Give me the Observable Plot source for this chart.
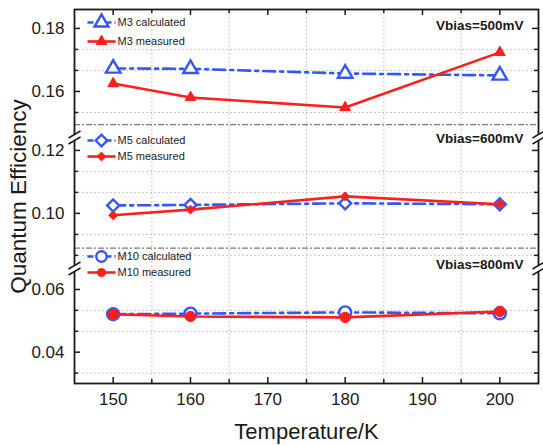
<!DOCTYPE html>
<html><head><meta charset="utf-8">
<script src="https://cdn.jsdelivr.net/npm/d3@7"></script>
<script src="https://cdn.jsdelivr.net/npm/@observablehq/plot@0.6"></script>
<style>body{margin:0;background:#fff} svg{display:block}</style>
</head><body><div id="chart"></div>
<script>
// ---- data ----
const temperatures = [150, 160, 180, 200];
const m3Calculated = [0.1673, 0.1672, 0.1657, 0.1651];
const m3Measured   = [0.1625, 0.1581, 0.1549, 0.1724];
const m5Calculated = [0.1025, 0.1027, 0.1032, 0.1029];
const m5Measured   = [0.0994, 0.1012, 0.1054, 0.1029];
const m10Calculated = [0.0521, 0.0523, 0.0527, 0.0524];
const m10Measured   = [0.0521, 0.0514, 0.0511, 0.0530];
const seriesNames = ["M3 calculated", "M3 measured", "M5 calculated", "M5 measured", "M10 calculated", "M10 measured"];
const xTicks = [150, 160, 170, 180, 190, 200];
const xMinorTicks = [155, 165, 175, 185, 195];
const yTicks = [0.04, 0.06, 0.10, 0.12, 0.16, 0.18];
const yMinorTicks = [0.03333, 0.04667, 0.05333, 0.08667, 0.09333, 0.10667, 0.11333, 0.15333, 0.16667, 0.17333];
const separators = [0.089, 0.1495];
const biasLabels = ["Vbias=500mV", "Vbias=600mV", "Vbias=800mV"];
// broken y axis: three segments
const yDomain = [0.03, 0.0667, 0.0825, 0.1241, 0.1454, 0.186];

// ---- layout ----
const W = 543, H = 445, mL = 74, mR = 5, mT = 9, mB = 62;
const xDomain = [145, 205];
const breakPx = [137, 268];
const yRange = [H - mB, breakPx[1], breakPx[1], breakPx[0], breakPx[0], mT];
const xPx = d3.scaleLinear(xDomain, [mL, W - mR]);
const yPx = d3.scaleLinear(yDomain, yRange);
const BLUE = "#3356f5", RED = "#ff1e1e", INK = "#1a1a1a";
const frameW = W - mR - mL, frameH = H - mB - mT;

const valuesBy = [m3Calculated, m3Measured, m5Calculated, m5Measured, m10Calculated, m10Measured];
const symbols = ["triangle", "triangle", "diamond2", "diamond2", "circle", "circle"];
const series = seriesNames.map((name, i) => ({
  name, values: valuesBy[i], calc: i % 2 === 0, symbol: symbols[i]
}));

const marks = [
  Plot.ruleX(xMinorTicks, {stroke: "#c8c8c8", strokeDasharray: "2,2"}),
  Plot.ruleY(yMinorTicks, {stroke: "#c8c8c8", strokeDasharray: "2,2"}),
  Plot.ruleY(separators, {stroke: "#7a7a7a", strokeWidth: 1.3, strokeDasharray: "6,2,2,2"}),
  Plot.frame({stroke: INK, strokeWidth: 1.8}),
  // inward ticks on all four sides
  Plot.tickX(xTicks, {x: d => d, insetTop: frameH - 6, stroke: INK, strokeWidth: 1.5}),
  Plot.tickX(xTicks, {x: d => d, insetBottom: frameH - 6, stroke: INK, strokeWidth: 1.5}),
  Plot.tickX(xMinorTicks, {x: d => d, insetTop: frameH - 4, stroke: INK, strokeWidth: 1.5}),
  Plot.tickX(xMinorTicks, {x: d => d, insetBottom: frameH - 4, stroke: INK, strokeWidth: 1.5}),
  Plot.tickY(yTicks, {y: d => d, insetRight: frameW - 6, stroke: INK, strokeWidth: 1.5}),
  Plot.tickY(yTicks, {y: d => d, insetLeft: frameW - 6, stroke: INK, strokeWidth: 1.5}),
  Plot.tickY(yMinorTicks, {y: d => d, insetRight: frameW - 4, stroke: INK, strokeWidth: 1.5}),
  Plot.tickY(yMinorTicks, {y: d => d, insetLeft: frameW - 4, stroke: INK, strokeWidth: 1.5}),
  Plot.axisX({ticks: xTicks, tickSize: 0, tickPadding: 9, label: null, fontSize: 17, fill: INK}),
  Plot.axisY({ticks: yTicks, tickSize: 0, tickPadding: 10, tickFormat: d3.format(".2f"), label: null, fontSize: 17, fill: INK}),
];

for (const s of series) {
  const rows = temperatures.map((t, i) => ({T: t, QE: s.values[i]}));
  const color = s.calc ? BLUE : RED;
  marks.push(Plot.line(rows, {x: "T", y: "QE", stroke: color, strokeWidth: 2.6,
    strokeDasharray: s.calc ? "12,5,3,5" : null}));
  marks.push(Plot.dot(rows, {x: "T", y: "QE", symbol: s.symbol,
    r: s.calc ? (s.symbol === "circle" ? 6 : 5.4) : (s.symbol === "circle" ? 5.2 : 4),
    stroke: color, strokeWidth: s.calc ? 2.4 : 1, fill: s.calc ? "white" : RED}));
}

// legends inside each panel
const legendPx = [22, 41, 140, 156, 256, 272];
series.forEach((s, i) => {
  const yv = yPx.invert(legendPx[i]);
  const color = s.calc ? BLUE : RED;
  marks.push(Plot.link([s], {x1: xPx.invert(87), x2: xPx.invert(115), y1: yv, y2: yv,
    stroke: color, strokeWidth: 2.6, strokeDasharray: s.calc ? "6,3" : null}));
  marks.push(Plot.dot([s], {x: xPx.invert(101), y: yv, symbol: s.symbol,
    r: s.calc ? 5.2 : 4, stroke: color, strokeWidth: s.calc ? 2.4 : 1, fill: s.calc ? "white" : RED}));
  marks.push(Plot.text([s.name], {x: xPx.invert(117), y: yv, textAnchor: "start", fontSize: 11, fill: INK}));
});

// bias labels
const biasPx = [25, 138, 264];
marks.push(Plot.text(biasLabels, {x: xPx.invert(523), y: (d, i) => yPx.invert(biasPx[i]),
  textAnchor: "end", fontSize: 13.5, fontWeight: "bold", fill: INK}));

// axis titles
marks.push(Plot.text(["Quantum Efficiency"], {frameAnchor: "left", dx: -56, rotate: -90,
  textAnchor: "middle", lineAnchor: "middle", fontSize: 22.5, fill: INK}));
marks.push(Plot.text(["Temperature/K"], {frameAnchor: "bottom", dy: 48,
  textAnchor: "middle", lineAnchor: "middle", fontSize: 22, fill: INK}));

// axis break symbols (two slanted strokes with a white gap), on both y axes
const breakSegs = [];
for (const xe of [mL, W - mR]) {
  for (const b of breakPx) {
    breakSegs.push({x1: xPx.invert(xe - 6), x2: xPx.invert(xe + 6), y1: yPx.invert(b + 3.5), y2: yPx.invert(b - 3.5), white: true});
    breakSegs.push({x1: xPx.invert(xe - 6), x2: xPx.invert(xe + 6), y1: yPx.invert(b + 6.5), y2: yPx.invert(b - 0.5), white: false});
    breakSegs.push({x1: xPx.invert(xe - 6), x2: xPx.invert(xe + 6), y1: yPx.invert(b + 0.5), y2: yPx.invert(b - 6.5), white: false});
  }
}
marks.push(Plot.link(breakSegs.filter(d => d.white), {x1: "x1", x2: "x2", y1: "y1", y2: "y2", stroke: "white", strokeWidth: 5.5}));
marks.push(Plot.link(breakSegs.filter(d => !d.white), {x1: "x1", x2: "x2", y1: "y1", y2: "y2", stroke: INK, strokeWidth: 1.5}));

const chart = Plot.plot({
  width: W, height: H,
  marginLeft: mL, marginRight: mR, marginTop: mT, marginBottom: mB,
  style: {fontFamily: "'Liberation Sans', Arial, sans-serif", fontSize: "17px", background: "white", color: INK},
  x: {type: "linear", domain: xDomain},
  y: {type: "linear", domain: yDomain, range: yRange},
  marks
});
document.getElementById("chart").append(chart);
</script>
</body></html>
